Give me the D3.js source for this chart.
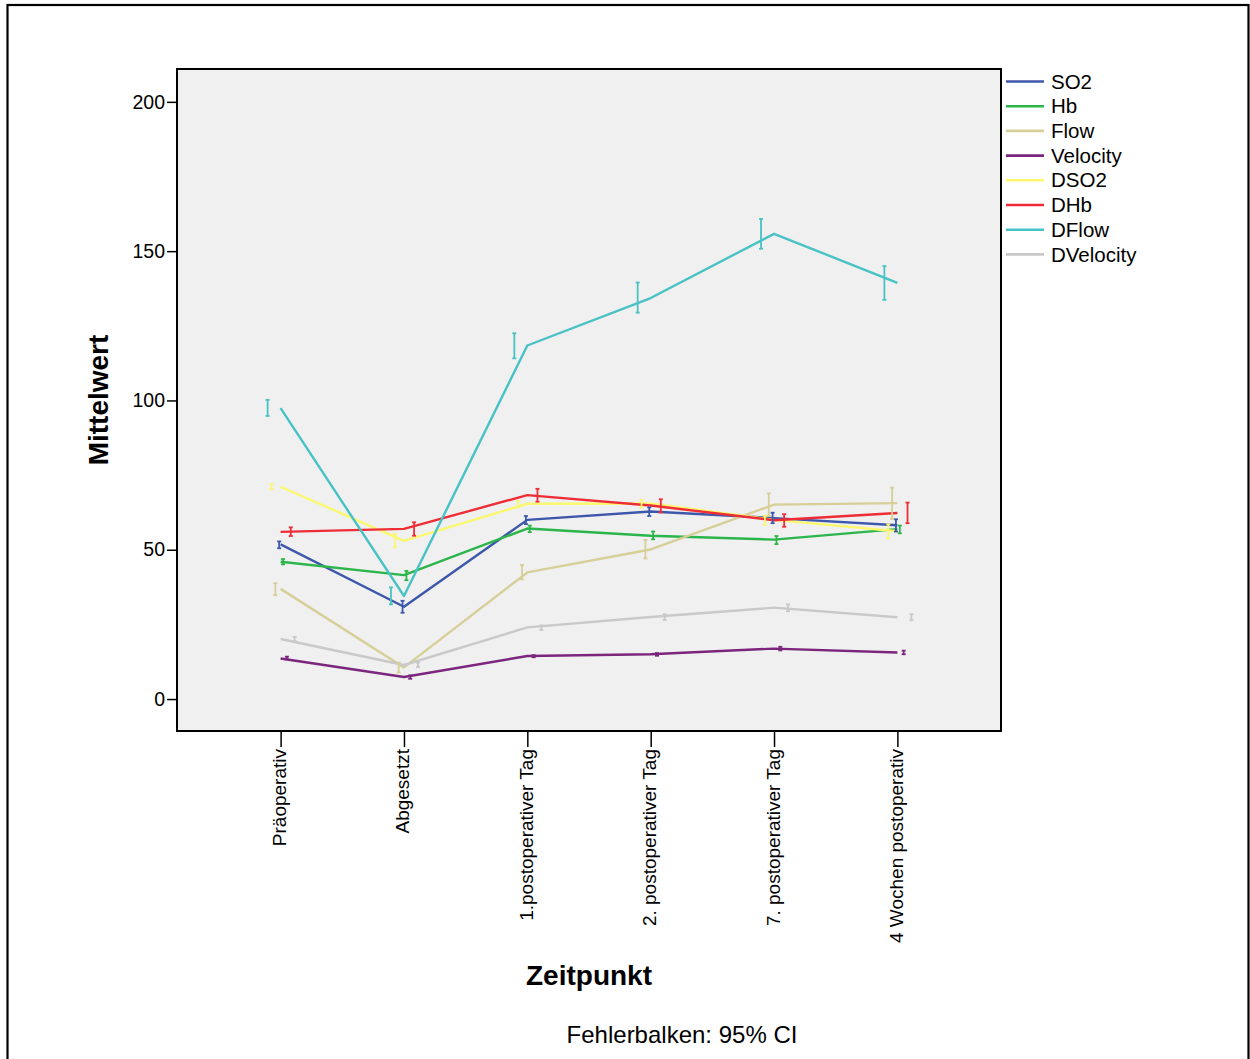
<!doctype html>
<html lang="de">
<head>
  <meta charset="utf-8">
  <title>Mittelwert nach Zeitpunkt</title>
</head>

<style>
  body {
    margin: 0;
    background: #ffffff;
    font-family: "Liberation Sans", Arial, Helvetica, sans-serif;
  }
</style>

<body>

  <script src="https://d3js.org/d3.v7.min.js"></script>

  <svg xmlns="http://www.w3.org/2000/svg"></svg>

  <script>

    // categories on the x axis
    var categories = ["Präoperativ", "Abgesetzt", "1.postoperativer Tag",
      "2. postoperativer Tag", "7. postoperativer Tag", "4 Wochen postoperativ"];

    // series in legend order
    var seriesNames = ["SO2", "Hb", "Flow", "Velocity", "DSO2", "DHb", "DFlow", "DVelocity"];
    var seriesColors = ["#3d57ab", "#2bb54b", "#d6cf98", "#7b257d", "#fbf86f", "#ee2d36", "#48c2c5", "#c9c9c9"];

    // order of the error bars inside one category (left to right)
    var barOrder = ["DFlow", "DSO2", "Flow", "SO2", "Hb", "Velocity", "DHb", "DVelocity"];

    // mean values, one row per series (same order as seriesNames)
    var means = [
      [51.8, 30.9, 60.0, 62.8, 60.6, 58.2],
      [46.0, 41.5, 57.1, 54.7, 53.4, 56.9],
      [36.9, 10.6, 42.4, 50.1, 65.1, 65.6],
      [13.6,  7.4, 14.4, 15.0, 16.9, 15.6],
      [71.1, 53.0, 65.4, 65.5, 60.0, 56.2],
      [56.0, 57.0, 68.3, 64.8, 59.9, 62.3],
      [97.4, 34.5, 118.4, 134.3, 155.8, 139.4],
      [20.1, 11.4, 24.0, 27.5, 30.6, 27.4]
    ];

    // 95% CI lower bounds
    var ciLower = [
      [50.5, 28.9, 58.6, 61.3, 58.9, 56.1],
      [45.1, 39.8, 55.9, 53.5, 51.9, 55.5],
      [34.8,  8.9, 40.1, 47.1, 61.3, 60.3],
      [13.3,  6.8, 14.0, 14.5, 16.3, 15.0],
      [70.3, 50.8, 64.2, 64.1, 58.3, 53.8],
      [54.6, 54.7, 66.1, 62.5, 57.7, 58.9],
      [94.8, 31.7, 114.1, 129.4, 150.8, 133.7],
      [19.4, 10.7, 23.1, 26.5, 29.4, 26.4]
    ];

    // 95% CI upper bounds
    var ciUpper = [
      [52.8, 32.9, 61.3, 64.2, 62.4, 60.2],
      [46.9, 42.9, 58.1, 56.1, 54.6, 58.1],
      [38.8, 12.2, 44.9, 53.3, 68.9, 70.8],
      [14.2,  7.9, 14.7, 15.4, 17.5, 16.2],
      [72.0, 55.3, 66.4, 66.7, 61.4, 58.5],
      [57.5, 59.2, 70.4, 66.9, 61.9, 65.8],
      [100.2, 37.4, 122.5, 139.5, 160.8, 145.0],
      [20.8, 12.2, 24.7, 28.4, 31.7, 28.4]
    ];

    var yTicks = [0, 50, 100, 150, 200];

    var svg = d3.select("svg")
      .attr("width", 1250)
      .attr("height", 1059);

    // outer frame
    svg.append("rect")
      .attr("x", 7.5).attr("y", 5)
      .attr("width", 1241).attr("height", 1100)
      .attr("fill", "#ffffff")
      .attr("stroke", "#000000")
      .attr("stroke-width", 2.2);

    var plot = { left: 177, right: 1001, top: 69, bottom: 731 };

    var x = d3.scalePoint()
      .domain(categories)
      .range([plot.left, plot.right])
      .padding(0.84);

    var y = d3.scaleLinear()
      .domain([-10.7, 211])
      .range([plot.bottom, plot.top]);

    var offset = d3.scalePoint()
      .domain(barOrder)
      .range([-13, 14]);

    // plot background
    svg.append("rect")
      .attr("x", plot.left).attr("y", plot.top)
      .attr("width", plot.right - plot.left)
      .attr("height", plot.bottom - plot.top)
      .attr("fill", "#f0f0f0");

    var rows = seriesNames.map(function(name, i) {
      return {
        name: name,
        color: seriesColors[i],
        points: categories.map(function(c, j) {
          return { cat: c, mean: means[i][j], lo: ciLower[i][j], hi: ciUpper[i][j] };
        })
      };
    });

    var line = d3.line()
      .x(function(d) { return x(d.cat); })
      .y(function(d) { return y(d.mean); });

    svg.append("g").selectAll("path")
      .data(rows)
      .join("path")
      .attr("d", function(d) { return line(d.points); })
      .attr("fill", "none")
      .attr("stroke", function(d) { return d.color; })
      .attr("stroke-width", 2.4)
      .attr("stroke-linejoin", "round");

    // error bars
    var bars = svg.append("g").selectAll("g")
      .data(rows)
      .join("g")
      .attr("stroke", function(d) { return d.color; })
      .attr("stroke-width", 1.8);

    bars.each(function(s) {
      var g = d3.select(this);
      var bx = function(d) { return x(d.cat) + offset(s.name); };
      g.selectAll(".stem").data(s.points).join("line")
        .attr("class", "stem")
        .attr("x1", bx).attr("x2", bx)
        .attr("y1", function(d) { return y(d.lo); })
        .attr("y2", function(d) { return y(d.hi); });
      g.selectAll(".capLo").data(s.points).join("line")
        .attr("class", "capLo")
        .attr("x1", function(d) { return bx(d) - 2; })
        .attr("x2", function(d) { return bx(d) + 2; })
        .attr("y1", function(d) { return y(d.lo); })
        .attr("y2", function(d) { return y(d.lo); });
      g.selectAll(".capHi").data(s.points).join("line")
        .attr("class", "capHi")
        .attr("x1", function(d) { return bx(d) - 2; })
        .attr("x2", function(d) { return bx(d) + 2; })
        .attr("y1", function(d) { return y(d.hi); })
        .attr("y2", function(d) { return y(d.hi); });
    });

    // plot frame
    svg.append("rect")
      .attr("x", plot.left).attr("y", plot.top)
      .attr("width", plot.right - plot.left)
      .attr("height", plot.bottom - plot.top)
      .attr("fill", "none")
      .attr("stroke", "#000000")
      .attr("stroke-width", 2);

    // y axis
    svg.append("g")
      .attr("transform", "translate(" + plot.left + ",0)")
      .call(d3.axisLeft(y).tickValues(yTicks).tickSize(10).tickPadding(2))
      .call(function(g) { g.select(".domain").remove(); })
      .call(function(g) {
        g.selectAll(".tick line").attr("stroke", "#000").attr("stroke-width", 1.5);
        g.selectAll(".tick text")
          .attr("fill", "#000")
          .style("font-family", "'Liberation Sans', Arial, sans-serif")
          .style("font-size", "19.5px");
      });

    // x axis
    svg.append("g")
      .attr("transform", "translate(0," + plot.bottom + ")")
      .call(d3.axisBottom(x).tickSize(16))
      .call(function(g) { g.select(".domain").remove(); })
      .call(function(g) {
        g.selectAll(".tick line").attr("stroke", "#000").attr("stroke-width", 1.5);
        g.selectAll(".tick text")
          .attr("fill", "#000")
          .attr("transform", "rotate(-90)")
          .attr("x", -18)
          .attr("y", 5)
          .attr("dy", "0")
          .attr("text-anchor", "end")
          .style("font-family", "'Liberation Sans', Arial, sans-serif")
          .style("font-size", "19px");
      });

    // axis titles
    svg.append("text")
      .attr("transform", "translate(108," + ((plot.top + plot.bottom) / 2) + ") rotate(-90)")
      .attr("text-anchor", "middle")
      .style("font-size", "28px")
      .style("font-weight", "bold")
      .text("Mittelwert");

    svg.append("text")
      .attr("x", (plot.left + plot.right) / 2)
      .attr("y", 985)
      .attr("text-anchor", "middle")
      .style("font-size", "28px")
      .style("font-weight", "bold")
      .text("Zeitpunkt");

    svg.append("text")
      .attr("x", 682)
      .attr("y", 1043)
      .attr("text-anchor", "middle")
      .style("font-size", "24px")
      .text("Fehlerbalken: 95% CI");

    // legend
    var legend = svg.append("g").selectAll("g")
      .data(rows)
      .join("g")
      .attr("transform", function(d, i) { return "translate(1006," + (81.5 + i * 24.7) + ")"; });

    legend.append("line")
      .attr("x1", 0).attr("x2", 38)
      .attr("stroke", function(d) { return d.color; })
      .attr("stroke-width", 2.6);

    legend.append("text")
      .attr("x", 45)
      .attr("dy", "0.35em")
      .style("font-size", "20.5px")
      .text(function(d) { return d.name; });

  </script>
</body>
</html>
